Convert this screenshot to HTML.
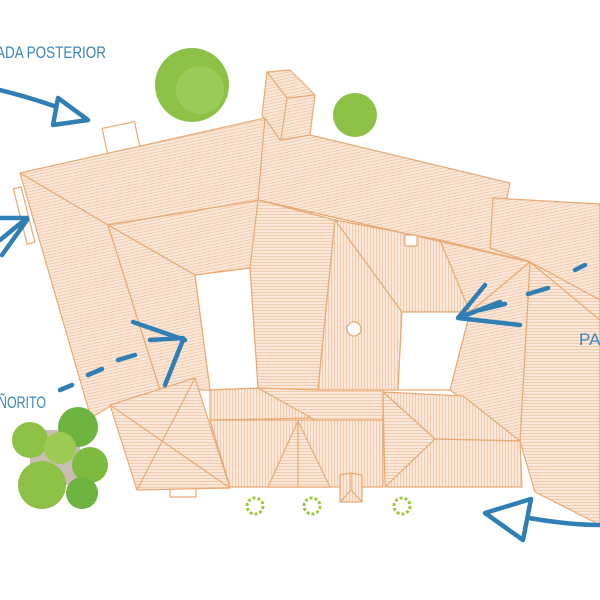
<!DOCTYPE html>
<html><head><meta charset="utf-8"><style>
html,body{margin:0;padding:0;background:#fff}
svg{display:block}
text{font-family:"Liberation Sans Narrow","Liberation Sans",sans-serif;fill:#3a86bd}
</style></head><body>
<svg width="600" height="600" viewBox="0 0 600 600" xmlns="http://www.w3.org/2000/svg">
<defs>
<pattern id="h" width="3" height="3" patternUnits="userSpaceOnUse" patternTransform="rotate(-12)">
<rect width="3" height="3" fill="#fbe8da"/><line x1="0" y1="1.5" x2="3" y2="1.5" stroke="#f0c4a2" stroke-width="0.8"/></pattern>
<pattern id="v" width="3" height="3" patternUnits="userSpaceOnUse">
<rect width="3" height="3" fill="#fbe8da"/><line x1="1.5" y1="0" x2="1.5" y2="3" stroke="#f0c4a2" stroke-width="0.8"/></pattern>
<pattern id="hz" width="3" height="3" patternUnits="userSpaceOnUse">
<rect width="3" height="3" fill="#fbe8da"/><line x1="0" y1="1.5" x2="3" y2="1.5" stroke="#f0c4a2" stroke-width="0.8"/></pattern>
</defs>
<g stroke="#e9aa74" stroke-width="1.2" stroke-linejoin="round">
<rect x="105" y="125" width="33" height="28" fill="#fff" transform="rotate(-12 120 140)"/>
<rect x="20" y="187" width="8" height="57" fill="#fff" transform="rotate(-14 24 215)"/>
<rect x="170" y="487" width="26" height="10" fill="#fff"/>
<polygon points="20,173 265,118 260,200 108,225" fill="url(#h)"/>
<polygon points="108,225 260,200 250,268 195,275" fill="url(#h)"/>
<polygon points="267,72 290,70 315,95 310,135 280,146 262,115" fill="url(#h)"/>
<line x1="267" y1="72" x2="287" y2="98"/><line x1="287" y1="98" x2="315" y2="95"/><line x1="287" y1="98" x2="280" y2="146"/>
<polygon points="265,118 280,140 310,135 510,183 507,198 530,262 258,200" fill="url(#h)"/>
<polygon points="493,198 600,204 600,300 530,262 490,248" fill="url(#h)"/>
<polygon points="530,262 600,300 600,525 535,492 520,441" fill="url(#hz)"/>
<line x1="530" y1="262" x2="600" y2="320"/>
<polygon points="20,173 108,225 160,390 112,405 91,418" fill="url(#h)"/>
<polygon points="108,225 195,275 210,390 160,390" fill="url(#h)"/>
<polygon points="258,200 335,220 318,390 258,390 250,268" fill="url(#hz)"/>
<polygon points="335,220 402,312 398,390 318,390" fill="url(#v)"/>
<polygon points="335,220 440,240 470,312 402,312" fill="url(#v)"/>
<polygon points="440,240 530,262 470,312" fill="url(#h)"/>
<polygon points="530,262 520,441 450,390 470,312" fill="url(#h)"/>
<polygon points="110,405 195,378 230,488 137,490" fill="url(#hz)"/>
<line x1="110" y1="405" x2="230" y2="488"/><line x1="195" y1="378" x2="137" y2="490"/>
<polygon points="210,390 258,388 318,418 210,420" fill="url(#v)"/>
<polygon points="210,420 383,420 383,487 230,487" fill="url(#v)"/>
<polygon points="258,388 318,390 383,390 383,420 315,420" fill="url(#hz)"/>
<polygon points="298,421 268,487 330,487" fill="url(#hz)"/>
<line x1="298" y1="421" x2="298" y2="487"/>
<polygon points="383,392 463,396 520,441 435,439" fill="url(#v)"/>
<polygon points="383,392 435,439 385,487" fill="url(#hz)"/>
<polygon points="435,439 520,441 522,487 385,487" fill="url(#v)"/>
<polygon points="195,275 250,268 258,388 210,390" fill="#fff"/>
<polygon points="402,312 470,312 450,390 398,390" fill="#fff"/>
<line x1="258" y1="200" x2="530" y2="262"/>
<line x1="108" y1="225" x2="260" y2="200"/>
<polygon points="340,475 351,473 362,475 362,502 340,502" fill="url(#v)"/>
<line x1="351" y1="473" x2="351" y2="490"/><line x1="340" y1="502" x2="351" y2="490"/><line x1="362" y1="502" x2="351" y2="490"/>
<rect x="405" y="235" width="12" height="11" fill="#fff"/>
<circle cx="354" cy="329" r="7" fill="#fff"/>
</g>
<circle cx="192" cy="85" r="37" fill="#8cc145"/>
<circle cx="200" cy="90" r="24" fill="#9dcb5a"/>
<circle cx="355" cy="115" r="22" fill="#8cc145"/>
<rect x="30" y="430" width="50" height="55" fill="#7a5a48" opacity="0.4"/>
<circle cx="78" cy="427" r="20" fill="#6db33f"/>
<circle cx="30" cy="440" r="18" fill="#8cc145"/>
<circle cx="60" cy="448" r="16" fill="#9cca52"/>
<circle cx="90" cy="465" r="18" fill="#7dbb40"/>
<circle cx="42" cy="485" r="24" fill="#8cc145"/>
<circle cx="82" cy="493" r="16" fill="#6db33f"/>
<g fill="none" stroke="#9cc842" stroke-width="3" stroke-dasharray="3 2">
<circle cx="255" cy="506" r="8"/><circle cx="312" cy="506" r="8"/><circle cx="402" cy="506" r="8"/></g>
<g stroke="#2f7fb5" fill="none" stroke-width="4.5" stroke-linecap="round" stroke-linejoin="round">
<path d="M0,90 Q40,100 70,112"/>
<polygon points="58,98 88,120 53,125" fill="#fff"/>
<path d="M0,218 L27,218 M0,240 L27,218 M2,255 L27,220"/>
<path d="M60,390 L72,385 M88,375 L102,369 M118,360 L135,355"/>
<path d="M133,322 L185,340 M150,340 L183,338 M183,340 L165,385"/>
<path d="M585,265 L575,270 M548,288 L528,294 M505,304 L480,310"/>
<path d="M485,285 L458,318 L500,302 M458,318 L520,325"/>
<polygon points="485,513 531,499 523,540" fill="#fff"/>
<path d="M529,518 Q570,525 600,525"/>
</g>
<text x="-4" y="58" font-size="17" textLength="110" lengthAdjust="spacingAndGlyphs">ADA POSTERIOR</text>
<text x="-2" y="408" font-size="17" textLength="48" lengthAdjust="spacingAndGlyphs">ÑORITO</text>
<text x="579" y="345" font-size="17">PA</text>
</svg>
</body></html>
